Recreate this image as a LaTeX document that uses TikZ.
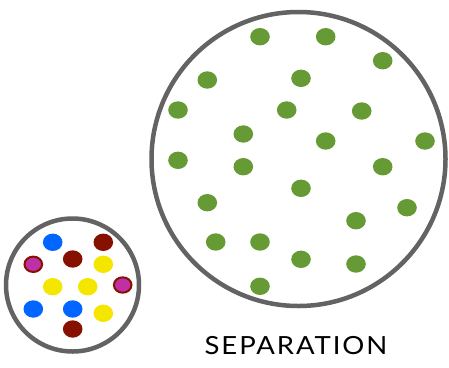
\documentclass[tikz,border=0pt]{standalone}
\usepackage{fontspec}
\setsansfont{Lato}
\usepackage{tikz}
\usetikzlibrary{positioning}
\definecolor{rimgray}{RGB}{99,99,99}
\definecolor{leafgreen}{RGB}{101,154,52}
\definecolor{dotblue}{RGB}{0,102,255}
\definecolor{dotred}{RGB}{135,17,0}
\definecolor{dotyellow}{RGB}{245,230,0}
\definecolor{dotpink}{RGB}{192,48,165}

\begin{document}
\begin{tikzpicture}[
  x=1pt, y=-1pt,
  rim/.style={draw=rimgray, line width=4.5pt},
  ringdot/.style={fill=dotpink, draw=dotred, line width=2pt}
]
\useasboundingbox (0,0) rectangle (449,367);
% big cell
\draw[rim] (298.5,159) circle (147);
\foreach \px/\py in {260/36.7, 325.7/36.7, 382.7/60.7, 207.3/80, 301/78.3,
    178/110, 286.7/110, 361.7/111, 243.3/134, 325.7/141, 425/141,
    178/160.3, 243.3/166.7, 382.7/166.7, 301/188.3, 207.3/202.7,
    407/207.7, 356/220.7, 215.7/242, 260/242, 301/259.3, 356/264, 260/286.3}
  \fill[leafgreen] (\px,\py) ellipse (9.8 and 8.7);
% small cell
\draw[rim] (72.5,285) circle (66.5);
\foreach \px/\py/\c in {52.7/242.3/dotblue, 103.3/242.3/dotred,
    72.7/259/dotred, 103.3/264.3/dotyellow, 52.7/286.7/dotyellow,
    87.7/286.7/dotyellow, 33.3/309/dotblue, 72.7/309/dotblue,
    103.3/313.3/dotyellow, 72.7/329/dotred}
  \fill[\c] (\px,\py) ellipse (9.8 and 8.7);
\draw[ringdot] (33.3,264.3) ellipse (8.8 and 7.7);
\draw[ringdot] (122.7,285) ellipse (8.8 and 7.7);
% caption
\node[anchor=base, inner sep=0pt, xscale=1.1, font=\sffamily\fontsize{25}{27}\selectfont\addfontfeatures{LetterSpace=7}] (label) at (296,354) {SEPARATION};
\end{tikzpicture}
\end{document}
